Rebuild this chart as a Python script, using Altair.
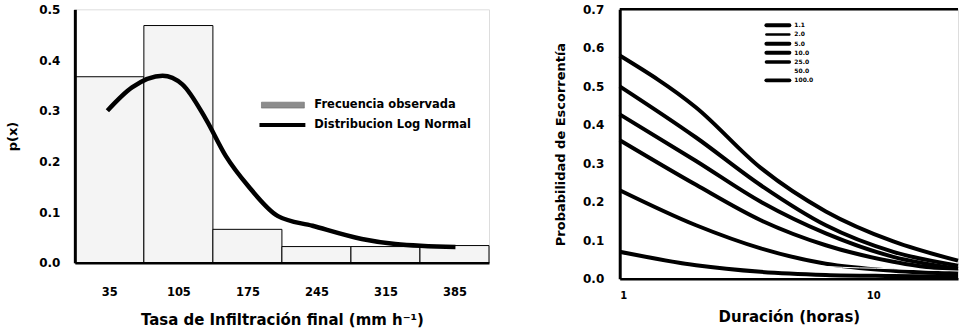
import altair as alt
import pandas as pd

# ---------------- data: left panel ----------------
bin_start = [0, 70, 140, 210, 280, 350]
bin_end = [70, 140, 210, 280, 350, 420]
freq_obs = [0.367, 0.468, 0.066, 0.032, 0.032, 0.034]
x_ticks_left = [35, 105, 175, 245, 315, 385]
y_ticks_left = [0.0, 0.1, 0.2, 0.3, 0.4, 0.5]

ln_x = [33, 58, 89, 109, 133, 153, 176, 206, 241, 291, 325, 386]
ln_p = [0.300, 0.346, 0.369, 0.352, 0.283, 0.211, 0.151, 0.092, 0.073, 0.047, 0.037, 0.031]

# ---------------- data: right panel ----------------
dur = [1, 2, 3.6, 6.5, 12, 21.6]
x_ticks_right = [1, 10]
y_ticks_right = [0.0, 0.1, 0.2, 0.3, 0.4, 0.5, 0.6, 0.7]
series_names = ["1.1", "2.0", "5.0", "10.0", "25.0", "50.0", "100.0"]
series_vals = {
    "100.0": [0.580, 0.445, 0.288, 0.175, 0.097, 0.047],
    "25.0": [0.500, 0.367, 0.243, 0.139, 0.070, 0.034],
    "10.0": [0.427, 0.306, 0.200, 0.118, 0.057, 0.026],
    "5.0": [0.360, 0.244, 0.152, 0.087, 0.044, 0.020],
    "2.0": [0.230, 0.139, 0.079, 0.039, 0.021, 0.013],
    "1.1": [0.070, 0.035, 0.018, 0.010, 0.007, 0.005],
    "50.0": [0.150, 0.090, 0.055, 0.032, 0.026, 0.020],
}
legend_line_w = [4, 2.5, 4, 4, 3.5, 0, 4]
legend_line_col = ["black", "black", "black", "black", "black", "white", "black"]

FONT = "DejaVu Sans"

def ax(**kw):
    base = dict(ticks=False, grid=False, domainColor="black", labelFont=FONT, titleFont=FONT,
                labelFontWeight="bold", titleFontWeight="bold", labelColor="black",
                titleColor="black", labelOverlap=False, zindex=2)
    base.update(kw)
    return alt.Axis(**base)

# ---------------- left panel ----------------
bars_df = pd.DataFrame({"x0": bin_start, "x1": bin_end, "p": freq_obs, "z": [0] * len(freq_obs)})
ln_df = pd.DataFrame({"x": ln_x, "p": ln_p})

xs_left = alt.Scale(domain=[0, 420], nice=False, zero=False)
ys_left = alt.Scale(domain=[0, 0.5], nice=False)
xax_left = ax(values=x_ticks_left, title="Tasa de Infiltración final (mm h⁻¹)",
              labelPadding=24, titlePadding=14, domainWidth=2.5, labelFontSize=11.5,
              titleFontSize=15)
yax_left = ax(values=y_ticks_left, format=".1f", title="p(x)",
              labelPadding=15, titlePadding=19, domainWidth=3, labelFontSize=12,
              titleFontSize=13)

bars = alt.Chart(bars_df).mark_rect(fill="#f4f4f4", stroke="black", strokeWidth=1).encode(
    x=alt.X("x0:Q", scale=xs_left, axis=xax_left),
    x2="x1:Q",
    y=alt.Y("p:Q", scale=ys_left, axis=yax_left),
    y2="z:Q",
)

curve = alt.Chart(ln_df).mark_line(color="black", strokeWidth=4.5, interpolate="monotone").encode(
    x=alt.X("x:Q", scale=xs_left, axis=xax_left),
    y=alt.Y("p:Q", scale=ys_left, axis=yax_left),
)

leg_df = pd.DataFrame({"lab": ["Frecuencia observada"]})
leg_patch = alt.Chart(leg_df).mark_rect(fill="#8c8c8c", stroke="#555", strokeWidth=0.5).encode(
    x=alt.value(187), x2=alt.value(230), y=alt.value(93), y2=alt.value(99)
)
leg_line = alt.Chart(leg_df).mark_rule(color="black", strokeWidth=4).encode(
    x=alt.value(185), x2=alt.value(231), y=alt.value(116)
)
leg_t1 = alt.Chart(leg_df).mark_text(align="left", baseline="middle", font=FONT,
                                     fontWeight="bold", fontSize=11.5).encode(
    x=alt.value(240), y=alt.value(96), text=alt.value("Frecuencia observada")
)
leg_t2 = alt.Chart(leg_df).mark_text(align="left", baseline="middle", font=FONT,
                                     fontWeight="bold", fontSize=11.5).encode(
    x=alt.value(240), y=alt.value(116), text=alt.value("Distribucion Log Normal")
)

left = alt.layer(bars, curve, leg_patch, leg_line, leg_t1, leg_t2).properties(
    width=415, height=254
)

# ---------------- right panel ----------------
rows = []
for name in series_names:
    for d, v in zip(dur, series_vals[name]):
        rows.append({"d": d, "p": v, "T": name})
r_df = pd.DataFrame(rows)

xs_right = alt.Scale(type="log", domain=[1, 21.6], nice=False)
ys_right = alt.Scale(domain=[0, 0.7], nice=False)
xax_right = ax(values=x_ticks_right, format="d", title="Duración (horas)",
               labelPadding=12, titlePadding=9, domainWidth=2.5, labelFontSize=10,
               titleFontSize=15)
yax_right = ax(values=y_ticks_right, format=".1f", title="Probabilidad de Escorrentía",
               labelPadding=16, titlePadding=15, domainWidth=3, labelFontSize=12,
               titleFontSize=13)

black_df = r_df[r_df["T"] != "50.0"]
white_df = r_df[r_df["T"] == "50.0"]

r_lines = alt.Chart(black_df).mark_line(color="black", strokeWidth=4, interpolate="monotone").encode(
    x=alt.X("d:Q", scale=xs_right, axis=xax_right),
    y=alt.Y("p:Q", scale=ys_right, axis=yax_right),
    detail="T:N",
)
r_white = alt.Chart(white_df).mark_line(color="white", strokeWidth=1, interpolate="monotone").encode(
    x=alt.X("d:Q", scale=xs_right, axis=xax_right),
    y=alt.Y("p:Q", scale=ys_right, axis=yax_right),
)

frame_df = pd.DataFrame({"k": [0]})
top_line = alt.Chart(frame_df).mark_rule(color="black", strokeWidth=2.5).encode(
    x=alt.datum(1, scale=xs_right, axis=xax_right), x2=alt.datum(21.6),
    y=alt.datum(0.7, scale=ys_right, axis=yax_right)
)

leg_layers = []
for i, (name, w, c) in enumerate(zip(series_names, legend_line_w, legend_line_col)):
    one = pd.DataFrame({"T": [name]})
    yy = 16 + i * 9.2
    if w > 0:
        leg_layers.append(
            alt.Chart(one).mark_rule(color=c, strokeWidth=w, strokeCap="round").encode(
                x=alt.value(147), x2=alt.value(170), y=alt.value(yy)
            )
        )
    leg_layers.append(
        alt.Chart(one).mark_text(align="left", baseline="middle", font=FONT,
                                 fontWeight="bold", fontSize=6).encode(
            x=alt.value(175), y=alt.value(yy), text="T:N"
        )
    )

right = alt.layer(r_lines, r_white, top_line, *leg_layers).properties(
    width=339, height=270
)

chart = alt.hconcat(left, right, spacing=64).properties(
    padding={"left": 6, "top": 2, "right": 0, "bottom": 0}
).configure_view(stroke=None).configure(background="white")

chart.save("out.html", embed_options={"renderer": "svg", "actions": False})
